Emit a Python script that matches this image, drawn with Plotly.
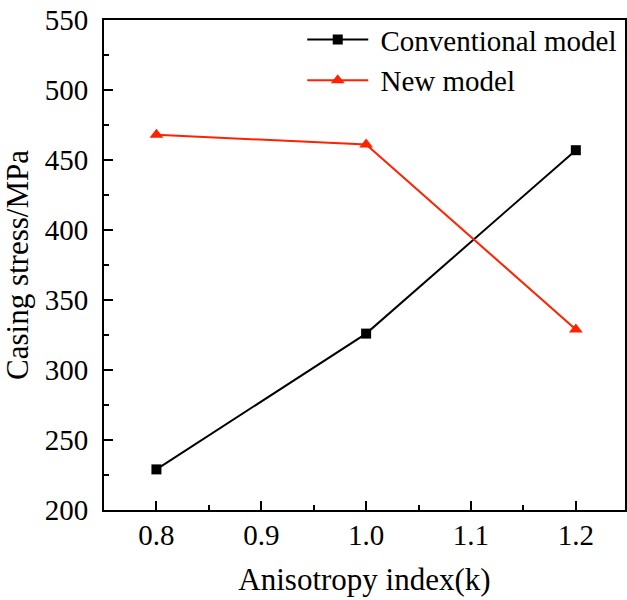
import plotly.graph_objects as go

k_values = [0.8, 1.0, 1.2]
conventional_stress = [229, 326, 457]
new_stress = [468, 461, 329]
y_ticks = [200, 250, 300, 350, 400, 450, 500, 550]
x_ticks = [0.8, 0.9, 1.0, 1.1, 1.2]
x_tick_labels = ["0.8", "0.9", "1.0", "1.1", "1.2"]

FONT = "Liberation Serif"
NBSP = "\u00a0"

fig = go.Figure()
fig.add_trace(go.Scatter(
    x=k_values, y=conventional_stress, name=NBSP + "Conventional model",
    mode="lines+markers",
    line=dict(color="black", width=2),
    marker=dict(symbol="square", size=10, color="black"),
))
fig.add_trace(go.Scatter(
    x=k_values, y=new_stress, name=NBSP + "New model",
    mode="lines+markers",
    line=dict(color="#ff2200", width=2),
    marker=dict(symbol="triangle-up", size=12, color="#ff2200"),
))

axis_common = dict(
    showline=True, linecolor="black", linewidth=2, mirror=True,
    ticks="inside", tickcolor="black", tickwidth=2, ticklen=9,
    showgrid=False, zeroline=False, ticklabeloverflow="allow",
    tickfont=dict(family=FONT, size=29, color="black"),
)

fig.update_xaxes(
    range=[0.75, 1.2469], tickvals=x_ticks, ticktext=x_tick_labels,
    minor=dict(ticks="inside", ticklen=5, tickwidth=2, tickcolor="black", dtick=0.05, tick0=0.75),
    ticklabelstandoff=-2, automargin=False,
    title=dict(text="Anisotropy index(k)", font=dict(family=FONT, size=31, color="black"), standoff=19),
    **axis_common,
)
fig.update_yaxes(
    range=[200, 550], tickvals=y_ticks,
    minor=dict(ticks="inside", ticklen=5, tickwidth=2, tickcolor="black", dtick=25, tick0=200),
    ticklabelstandoff=8, automargin=True,
    title=dict(text="Casing stress/MPa", font=dict(family=FONT, size=31, color="black"), standoff=7),
    **axis_common,
)

fig.update_layout(
    width=627, height=600,
    margin=dict(l=104, r=0, t=20, b=90),
    plot_bgcolor="white", paper_bgcolor="white",
    showlegend=True,
    legend=dict(
        x=0.3805, y=1.012, xanchor="left", yanchor="top",
        font=dict(family=FONT, size=29, color="black"),
        bgcolor="rgba(0,0,0,0)", itemwidth=61, tracegroupgap=0,
    ),
)

fig.write_html(
    "out.html",
    config={"displayModeBar": False},
    post_script="document.body.style.margin='0';document.body.style.overflow='hidden';",
)
